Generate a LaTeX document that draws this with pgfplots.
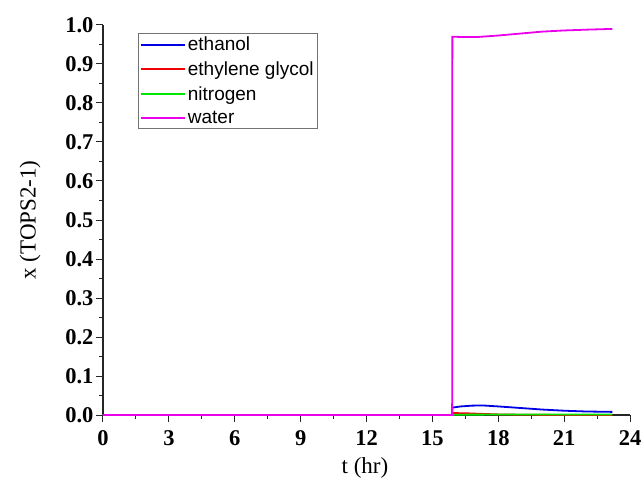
\documentclass[border=0pt]{standalone}
\usepackage{pgfplots}
\pgfplotsset{compat=1.18}
\usepackage{fontspec}
\setmainfont{Liberation Serif}
\newfontfamily\arial{Liberation Sans}
\begin{document}
\begin{tikzpicture}[x=1pt,y=1pt]
\path[use as bounding box] (-103,-75) rectangle (541,415);
\begin{axis}[
  at={(0,0)}, anchor=origin,
  scale only axis, width=527pt, height=390pt,
  xmin=0, xmax=24, ymin=0, ymax=1,
  enlargelimits=false,
  axis lines=left,
  axis line style={-, line width=1.1pt, black!85},
  xtick={0,3,...,24},
  ytick={0,0.1,...,1.0},
  minor x tick num=1, minor y tick num=1,
  tick align=outside,
  major tick length=7pt, minor tick length=4pt,
  every tick/.style={black!85, line width=1pt},
  /pgf/number format/assume math mode=true,
  tick label style={font=\fontsize{22.5}{24}\selectfont\bfseries},
  yticklabel style={xshift=1pt, /pgf/number format/.cd, fixed, fixed zerofill, precision=1},
  xticklabel style={yshift=-5pt, /pgf/number format/.cd, fixed, precision=0},
  xlabel={t (hr)}, ylabel={x (TOPS2-1)},
  label style={font=\fontsize{23}{26}\selectfont},
  xlabel style={at={(axis description cs:0.497,-0.135)}, anchor=center},
  ylabel style={at={(axis description cs:-0.1385,0.5)}, anchor=center},
  legend style={at={(axis description cs:0.0664,0.979)}, anchor=north west,
    draw=black!55, line width=0.8pt, font=\arial\fontsize{19}{21}\selectfont,
    row sep=5.5pt, inner sep=1.5pt, cells={anchor=west}},
  legend image code/.code={\draw[#1, line width=2pt] (0pt,0pt) -- (44pt,0pt);},
  every axis plot/.append style={line width=1.8pt},
]
\addplot[color={rgb,255:red,0;green,0;blue,230}] coordinates {
 (0,0) (15.9,0) (15.91,0.019) (16.3,0.022) (16.8,0.024) (17.3,0.0245) (18,0.022)
 (19,0.018) (20,0.014) (21,0.011) (22,0.009) (23.2,0.008)};
\addlegendentry{ethanol}
\addplot[color={rgb,255:red,240;green,0;blue,0}] coordinates {
 (0,0) (15.9,0) (15.91,0.005) (16.5,0.0045) (17.2,0.003) (18,0.0015) (19,0.0007) (20,0.0003) (23.2,0)};
\addlegendentry{ethylene glycol}
\addplot[color={rgb,255:red,0;green,230;blue,0}] coordinates {
 (0,0) (15.9,0) (15.91,0.0008) (17,0.001) (19,0.0012) (21,0.0012) (23.2,0.0012)};
\addlegendentry{nitrogen}
\addplot[color={rgb,255:red,235;green,0;blue,235}] coordinates {
 (0,0) (15.9,0) (15.91,0.970) (16.5,0.969) (17,0.969) (17.5,0.971) (18,0.973) (19,0.978)
 (20,0.983) (21,0.986) (22,0.988) (23.2,0.990)};
\addlegendentry{water}
\end{axis}
\end{tikzpicture}
\end{document}
